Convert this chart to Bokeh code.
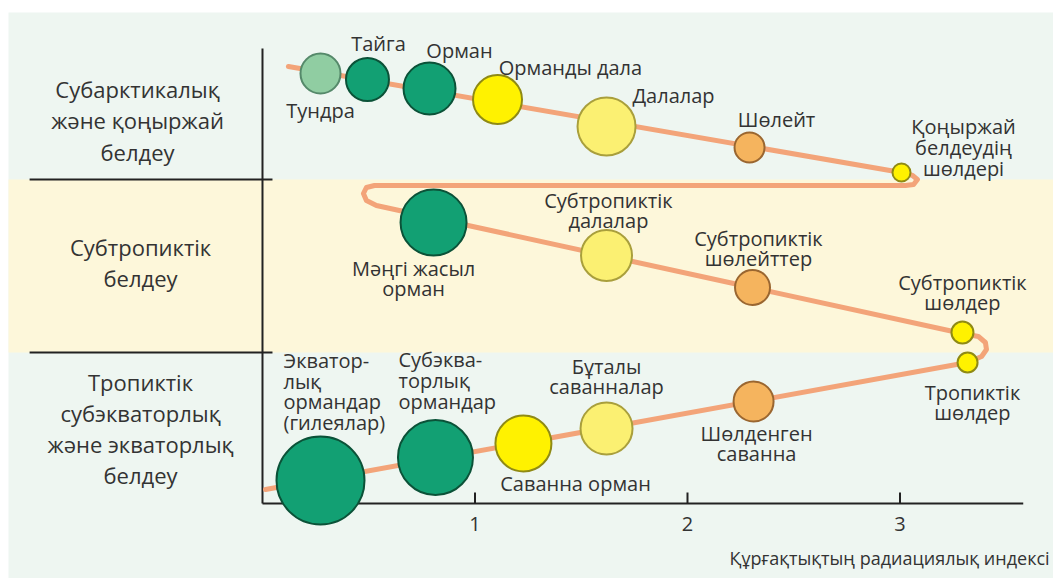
from bokeh.plotting import figure
from bokeh.models import Range1d, ColumnDataSource
from bokeh.core.properties import value
from bokeh.embed import file_html
from bokeh.resources import INLINE

# ---------------- data ----------------
# x: radiative index of dryness; y: relative vertical position above the x axis
biome_names = ["Тундра", "Тайга", "Орман", "Орманды дала", "Далалар", "Шөлейт",
               "Қоңыржай шөлдері", "Мәңгі жасыл орман", "Субтропиктік далалар",
               "Субтропиктік шөлейттер", "Субтропиктік шөлдер", "Тропиктік шөлдер",
               "Экваторлық ормандар", "Субэкваторлық ормандар", "Саванна орман",
               "Бұталы саванналар", "Шөлденген саванна"]
biome_x = [0.273, 0.494, 0.786, 1.106, 1.619, 2.292, 3.007, 0.805, 1.619, 2.306,
           3.294, 3.318, 0.273, 0.814, 1.228, 1.619, 2.311]
biome_y = [430, 424, 415, 404, 377, 356, 331, 281, 248, 216, 171, 141, 23, 46, 60, 75, 102]
biome_size = [40, 43, 52, 49, 58, 30, 18, 66, 51, 35, 22, 20, 88, 75, 56, 52, 40]
biome_type = ["tundra", "forest", "forest", "yellow", "light", "orange", "yellow",
              "forest", "light", "orange", "yellow", "yellow", "forest", "forest",
              "yellow", "light", "orange"]

path_x = [0.122, 3.007, 3.059, 3.082, 3.064, 3.026, 0.527, 0.489, 0.475, 0.489, 0.536,
          3.294, 3.369, 3.402, 3.407, 3.384, 3.318, 0.014]
path_y = [437, 331, 328, 324, 319, 318, 318, 316, 310, 303, 298,
          170, 167, 161, 154, 147, 141, 14]

label_text = ["Тундра", "Тайга", "Орман", "Орманды дала", "Далалар", "Шөлейт",
              "Қоңыржай\nбелдеудің\nшөлдері", "Субтропиктік\nдалалар", "Мәңгі жасыл\nорман",
              "Субтропиктік\nшөлейттер", "Субтропиктік\nшөлдер", "Тропиктік\nшөлдер",
              "Шөлденген\nсаванна", "Бұталы\nсаванналар", "Саванна орман"]
label_x = [0.273, 0.546, 0.927, 1.449, 1.934, 2.419, 3.299, 1.628, 0.711, 2.334,
           3.294, 3.341, 2.325, 1.619, 1.473]
label_y = [393, 460, 453, 436, 408, 384, 356, 293, 225, 255, 211, 101, 60, 127, 20]

left_label_text = ["Экватор-\nлық\nормандар\n(гилеялар)", "Субэква-\nторлық\nормандар"]
left_label_x = [0.099, 0.640]
left_label_y = [112, 123]

zone_text = ["Субарктикалық\nжәне қоңыржай\nбелдеу", "Субтропиктік\nбелдеу",
             "Тропиктік\nсубэкваторлық\nжәне экваторлық\nбелдеу"]
zone_x = [-0.588, -0.574, -0.574]
zone_y = [383, 241, 75]
zone_bounds = [324, 151]          # separators between zones

tick_values = [1, 2, 3]
tick_labels = ["1", "2", "3"]
x_title = "Құрғақтықтың радиациялық индексі"

# ---------------- styles ----------------
fill = {"tundra": "#90cda2", "forest": "#12a073", "yellow": "#fff200",
        "light": "#fbf072", "orange": "#f5b45e"}
edge = {"tundra": "#55896a", "forest": "#0b5238", "yellow": "#8f8a14",
        "light": "#a99f3c", "orange": "#9a6630"}
TXT = "#333333"
FONT = value("Open Sans")
X0, X1 = -1.2329, 3.7224

p = figure(width=1053, height=578, output_backend="svg", toolbar_location=None,
           x_range=Range1d(X0, X1), y_range=Range1d(-75, 503),
           x_axis_type=None, y_axis_type=None, min_border=0,
           background_fill_color="white", border_fill_color="white",
           outline_line_color=None)
p.grid.visible = False

# backgrounds
p.quad(left=-1.1953, right=X1, bottom=-75, top=491, fill_color="#eef6f1", line_color=None)
p.quad(left=-1.1953, right=X1, bottom=zone_bounds[1], top=zone_bounds[0],
       fill_color="#fdf7da", line_color=None)

# zone separators and axes
p.segment(x0=[-1.096] * 2, x1=[0.047] * 2, y0=zone_bounds, y1=zone_bounds,
          line_color="#222222", line_width=2)
p.segment(x0=[0], x1=[0], y0=[0], y1=[455], line_color="#222222", line_width=2)
p.segment(x0=[0], x1=[3.58], y0=[0], y1=[0], line_color="#222222", line_width=2)
p.segment(x0=tick_values, x1=tick_values, y0=[0] * 3, y1=[11] * 3,
          line_color="#222222", line_width=2)
p.text(x=tick_values, y=[-20] * 3, text=tick_labels, text_font=FONT, text_font_size="20px",
       text_color=TXT, text_align="center", text_baseline="middle")
p.text(x=[3.704], y=[-54], text=[x_title], text_font=FONT, text_font_size="18px",
       text_color=TXT, text_align="right", text_baseline="middle")

# path
p.line(path_x, path_y, line_color="#f3a479", line_width=5, line_join="round", line_cap="round")

# bubbles
src = ColumnDataSource(dict(x=biome_x, y=biome_y, s=biome_size,
                            f=[fill[t] for t in biome_type], e=[edge[t] for t in biome_type]))
p.scatter("x", "y", size="s", fill_color="f", line_color="e", line_width=2, source=src)

# labels
p.text(x=label_x, y=label_y, text=label_text, text_font=FONT, text_font_size="20px",
       text_color=TXT, text_align="center", text_baseline="middle", text_line_height=0.76)
p.text(x=left_label_x, y=left_label_y, text=left_label_text, text_font=FONT,
       text_font_size="20px", text_color=TXT, text_align="left", text_baseline="middle",
       text_line_height=0.76)
p.text(x=zone_x, y=zone_y, text=zone_text, text_font=FONT, text_font_size="22px",
       text_color=TXT, text_align="center", text_baseline="middle", text_line_height=1.04)

open("out.html", "w").write(file_html(p, INLINE))
